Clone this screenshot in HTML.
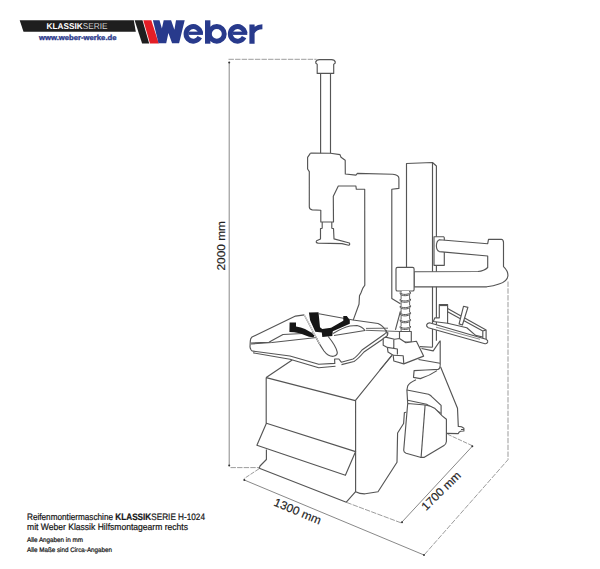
<!DOCTYPE html>
<html><head><meta charset="utf-8">
<style>
html,body{margin:0;padding:0;background:#fff;width:600px;height:569px;overflow:hidden}
svg{position:absolute;left:0;top:0;display:block}
text{font-family:"Liberation Sans",sans-serif;text-rendering:geometricPrecision}
</style></head><body>
<svg width="600" height="569" viewBox="0 0 600 569">
<!-- LOGO -->
<polygon points="19.7,20.2 133.8,20.2 135.8,31.8 23.5,31.8" fill="#1e1e1e"/>
<text x="46.5" y="29.2" font-size="8.5" font-weight="bold" fill="#fff" textLength="61" lengthAdjust="spacingAndGlyphs">KLASSIK<tspan font-weight="normal" fill="#d0d0d0">SERIE</tspan></text>
<text x="39" y="40.3" font-size="7.2" font-weight="bold" fill="#2c3a8c" stroke="#2c3a8c" stroke-width="0.35" textLength="77.5" lengthAdjust="spacingAndGlyphs">www.weber-werke.de</text>
<polygon points="134.6,20.2 142.5,20.2 149.2,43.4 142.1,43.4" fill="#1e1e1e"/>
<polygon points="143.3,20.2 151.3,20.2 158.8,43.4 150,43.4" fill="#e31e26"/>
<g fill="#283a8c"><polygon points="152.9,20.2 159.5,20.2 161.9,28.4 163.7,20.2 171.1,20.2 174.4,29.7 176,20.2 184.7,20.2 179.1,43.3 172.1,43.3 168.4,33.05 166.2,43.3 158.5,43.3"/><path d="M200.56,33.14 A7.3,7.3 0 1 0 199.80,37.21" stroke="#283a8c" stroke-width="4.9" fill="none"/><rect x="188.30" y="31.6" width="14.65" height="3.3" fill="#283a8c"/><rect x="205" y="20.3" width="5.4" height="23.4"/><ellipse cx="216.8" cy="33.9" rx="7.45" ry="7.35" stroke="#283a8c" stroke-width="4.9" fill="none"/><path d="M244.86,33.14 A7.3,7.3 0 1 0 244.10,37.21" stroke="#283a8c" stroke-width="4.9" fill="none"/><rect x="232.60" y="31.6" width="14.65" height="3.3" fill="#283a8c"/><path d="M249.4,43.7 V24.4 H254.6 V26.8 Q257.5,24.2 262.4,24.2 V29.3 Q257,29.3 254.6,33.2 V43.7 Z"/></g>

<!-- DIMENSIONS -->
<g stroke="#8a8a8a" stroke-width="0.85" fill="none">
<path d="M228.5,59.3 H316.5" stroke-dasharray="5.4,1.2"/>
<path d="M230.5,467.6 H259" stroke-dasharray="5.4,1.2"/>
<path d="M259,468.8 L243.8,478.8" stroke-dasharray="4.5,1.2"/>
<path d="M346.5,502.4 L401.5,523" stroke-dasharray="5.4,1.2"/>
<path d="M447.5,434.2 L472.5,445.8" stroke-dasharray="4.5,1.2"/>
<path d="M508,281.5 V459.7 L424.5,554.5" stroke-dasharray="5.4,1.4"/>
</g>
<g stroke="#6a6a6a" stroke-width="0.8" fill="none">
<path d="M229.2,62 V465.3"/>
<path d="M244.5,480.1 L424,555"/>
<path d="M402,522 L472.2,446.4"/>
</g>
<g fill="#333">
<circle cx="229.2" cy="62.6" r="1"/>
<circle cx="229.2" cy="465.4" r="1"/>
<circle cx="244.3" cy="480" r="1"/>
<circle cx="424" cy="555" r="1"/>
<circle cx="402" cy="522.2" r="1"/>
<circle cx="472.3" cy="446.3" r="1"/>
</g>
<text transform="translate(224.5,270.5) rotate(-90)" font-size="11.3" fill="#222" textLength="49.5" lengthAdjust="spacingAndGlyphs" stroke="#222" stroke-width="0.15">2000 mm</text>
<text transform="translate(273,505.3) rotate(22.7)" font-size="11.6" fill="#222" textLength="50" lengthAdjust="spacingAndGlyphs" stroke="#222" stroke-width="0.15">1300 mm</text>
<text transform="translate(426,511.3) rotate(-44.5)" font-size="11.6" fill="#222" textLength="50" lengthAdjust="spacingAndGlyphs" stroke="#222" stroke-width="0.15">1700 mm</text>

<!-- MACHINE -->
<g stroke="#555" stroke-width="1.15" fill="none" stroke-linejoin="round">
<!-- column -->
<path d="M406.5,267.4 V163.5 L432.5,162.5 V347.2 M432.5,162.5 L436.4,166 V340.8"/>
<!-- upper arm bracket and tube -->
<path fill="#fff" d="M434,236.7 H443.6 Q444.3,237 444.3,238 V265.3 H434 Z"/>
<path fill="#fff" d="M439.3,239.7 L487.7,243.7 L488.5,239.3 H501.2 Q503.5,239.6 503.5,242.5 V266.6 Q508.3,271 507.9,276 Q507.3,281.5 499,284 Q493.5,286.2 486.8,286.8 L414.1,286.8 V271.8 L478,271.5 Q484,271 487.7,267.5 V256 L439.3,251.6 Q436.4,250.3 436.4,245.7 Q436.5,241 439.3,239.7 Z"/>
<!-- slider -->
<rect fill="#fff" x="396" y="267.4" width="18.1" height="23.6" rx="1.6"/>
<!-- screw -->
<path fill="#fff" stroke-width="0.9" d="M401.1,291 V331.6 H409.6 V291"/>
<path stroke-width="1" fill="#fff" d="M400.2,292.7 C401.5,295.1 409,294.9 410.5,292.3 M400.2,294.0 C401.5,296.4 409,296.2 410.5,293.6 M400.2,292.7 V294.0 M410.5,292.3 V293.6 M400.2,299.3 C401.5,301.7 409,301.5 410.5,298.9 M400.2,300.6 C401.5,303.0 409,302.8 410.5,300.2 M400.2,299.3 V300.6 M410.5,298.9 V300.2 M400.2,306.0 C401.5,308.4 409,308.2 410.5,305.6 M400.2,307.3 C401.5,309.7 409,309.5 410.5,306.9 M400.2,306.0 V307.3 M410.5,305.6 V306.9 M400.2,312.9 C401.5,315.3 409,315.1 410.5,312.5 M400.2,314.2 C401.5,316.6 409,316.4 410.5,313.8 M400.2,312.9 V314.2 M410.5,312.5 V313.8 M400.2,319.8 C401.5,322.2 409,322.0 410.5,319.4 M400.2,321.1 C401.5,323.5 409,323.3 410.5,320.7 M400.2,319.8 V321.1 M410.5,319.4 V320.7 M400.2,326.5 C401.5,328.9 409,328.7 410.5,326.1 M400.2,327.8 C401.5,330.2 409,330.0 410.5,327.4 M400.2,326.5 V327.8 M410.5,326.1 V327.4"/>
<!-- head and arm -->
<path d="M317.2,73.4 L317.2,64.3 Q315.5,63.6 315.7,62 Q316.3,59.8 319.5,59.6 L331.5,59.6 Q334.7,59.8 335.3,62 Q335.5,63.6 333.7,64.3 L333.7,73.4 Z"/>
<path d="M320.6,73.3 V153.2 M330.5,73.3 V153.2"/>
<path d="M310.5,153.1 L330.5,153.2 L340,154.6 L341,157.3 L345.2,160.2 L345.3,174 L355.9,175.1 L357.4,173.4 L392.7,174.3 Q398.9,175 398.9,178.3 L398.9,188.4 L391.8,189.2 L391.8,298.5 L400.4,303.8"/>
<path d="M310.5,153.1 L307.6,157.4 L307.6,169 L309.3,171.6 L309.3,206.8 Q309.3,209.6 312.3,209.9 L320.8,210.3 L320.8,222 L333.5,222 L333.3,196.2 L338.3,186 L355.9,186 L356.3,189.2 L364.7,189.2 L364.8,285.3 L362.7,288.4 L361,292.7 L359.5,295.8 L359,304.3 L353.2,320.1"/>
<path d="M322.2,222 V228.5 M331.8,222 V228.5"/>
<path d="M322.2,228.5 H320.5 V239 L316.6,240.8 Q315.3,242.8 318.2,243.1 L342,243.6 L348.6,245.2 Q350.3,244.8 349.4,243 L334,238.9 L333.5,228.5 H331.8"/>
<path d="M400.4,311.4 L395.4,329.8"/>
<!-- turntable -->
<path d="M304.3,314.9 L295.5,316.1 L252,337 Q250.3,338.5 250.3,341 L250,347 Q250.5,350.5 253,351.3"/>
<path d="M304.3,314.9 L320,344.7"/>
<path d="M318.8,313.8 L353,320 L378,323.5 Q383,325.5 386,331 Q387.5,333 387.5,335.5"/>
<path d="M333,333.5 Q343,327.5 350,326 L357,325.5 Q362,326.5 365,330.5 L334,335.5"/>
<path d="M366,328.4 L388,328.2 M366,330.3 L399.5,331.5" stroke-width="0.9"/>
<path d="M253,351.1 L290,356 L318.7,364.3 L334.8,363.4 L334.6,359 H338.9 L341.3,362.2 L353,359 Q357,356.5 362,350 L384,334.5 Q387.6,332 386,330"/>
<path d="M253,352.8 L290,359.3 L318.7,367.7 L335.5,366.3 M341.5,364.6 L354,361.5 Q358,359 364,352 L386.6,336.5 Q388.5,334 387.5,332"/>
<path d="M251,343 L269,342.3 L272,340.5 L283,334.5 L313,333"/>
<path d="M251,344 L272,342.5 L316.7,337.5"/>
<path d="M316,337 Q318.5,343 324,351 Q328,356.5 333.3,356.3 Q337.5,355.5 337.3,352.3 Q336,346 328.2,336.5"/>
<!-- mount block -->
<path fill="#fff" d="M399.5,331.5 H411.3 V342 H399.5 Z"/>
<path fill="#fff" d="M383.2,338.6 V345.3 L387.4,347.4 L388,352.1 L391.6,354.2 L393.2,355.3 L393.8,361 L403.8,363.9 L423.6,356.1 L416.4,341.3 L405.9,342.7 L399.5,338.5 L394.6,339.2 L385.5,337.1 Z"/>
<path d="M393.8,339.5 V348.6 M387.4,347.4 L397.4,349 V354.5 M393.2,355.3 L403.2,355.8 L403.8,363.9"/>
<path d="M392,355.4 L379.8,370"/>
<path d="M418.5,359.5 L440,363.2"/>
<!-- column base bracket -->
<path d="M419.7,346.6 L432.5,347.2 M421.5,348.5 L433.2,350.9 L439.4,341.7 L440.2,341 V365.7"/>
<path d="M440.2,365.7 Q440,368.8 438,369.4 L425.8,370 L414.1,370.6 L413.5,377.4 L420.3,378.6 Q430,375.5 437,370.6"/>
<path d="M440.6,367 L457.5,408.2 L458.3,426.4 L461.5,426.8 L463.9,428.3 V431 L460.5,431.3 L459,432.2 L458.3,433.6 L446.9,433.4 M461,429.5 H463.9"/>
<path d="M416,379.8 Q409,383 407.7,386 L406.9,390 L407.7,403.5"/>
<path d="M406.9,390 L428.5,394.3 Q431,395.5 432,396.8 L441.1,405.4 V414.6"/>
<path d="M407.7,400.3 L426.6,404.3 L440.5,413"/>
<!-- bin -->
<path fill="#fff" d="M407.7,403.5 L425.1,405 Q431,406 434.6,408.2 L442.5,416.1 L446.4,419.3 V441.5 Q446,444.5 444,445.4 L424.3,457.3 L420.3,457.3 L406.1,453.3 Q403.7,452 403.7,450.2 Z"/>
<path d="M425.1,405 L421.1,457.3"/>
<!-- tool tray -->
<path fill="#fff" d="M434.9,317.8 H439.3 V304.6 H447.6 V323.3 L433.3,321.5 Z"/>
<path d="M439.3,305.2 H447.6" stroke-width="1.8"/>
<path d="M447.6,308.5 L486.1,329.9 V339.5 M447.6,311.8 L482.8,331 V338.5 M482.8,331 L486.1,329.9"/>
<path d="M447.6,323.3 L466.8,327.7 L475.6,335.4 L482.8,337"/>
<path fill="#fff" d="M463.5,306.3 L467.9,307.4 L462.4,325 L459.1,323.9 Z"/>
<path fill="#fff" d="M429.4,322.8 L486.1,339.3 Q488.2,340.3 487.7,342 Q487,344 485,343.7 L428.3,327.7 Q426.3,326.6 426.6,325 Q427.2,322.8 429.4,322.8 Z"/>
<path d="M436,327.2 L480,339.3" stroke-width="0.7"/>
<!-- base box -->
<path d="M266.2,377.6 L292.2,360 M266.2,377.6 L355.3,400.6 L391.7,355.5 M266.2,377.6 V423.3"/>
<path d="M355.6,400.6 V491.7 Q360,494 365.3,493.8 L378,491.7 L397,462.2 L397.6,433 L403.6,423.5 L404.4,412.5 L406.3,412.3"/>
<path d="M266.4,423.2 L256.9,445.3 L345.4,475.3 L355.6,451.6 Z"/>
<path d="M266.4,449.5 V459.5 L260,466 L259.3,468.2 L346.3,502.2 L355.6,491.7"/>
</g>
<!-- clamps (black) -->
<g fill="#161616">
<path d="M289.6,322.4 L296,322.4 L296,326.5 Q301,327.2 305,329 Q311,331.8 314.5,335.6 L313.5,337.2 Q309.5,337.4 305,335.2 Q300,332.6 294,332.2 L289.4,332 Z"/>
<path d="M308.9,312.6 L318.5,312.2 L320,327.2 L322.3,328.9 L331.1,327.8 L343.3,320.8 L343.3,316.1 L346.8,316.1 L349.8,320.2 L349.8,323.7 L332.8,331.3 L332.3,335.9 L322.3,337.1 L321.8,332.4 L315.3,331.8 L310.1,320.2 Z"/>
</g>
<g stroke="#3a3a3a" stroke-width="1" fill="none">
<path d="M304.3,314.9 L320,344.7" stroke="#fff" stroke-width="0.8"/>
</g>

<!-- TEXT -->
<g fill="#161616" stroke="#161616" stroke-width="0.22">
<text x="27" y="519.6" font-size="9.3" textLength="178" lengthAdjust="spacingAndGlyphs">Reifenmontiermaschine <tspan font-weight="bold">KLASSIK</tspan>SERIE H-1024</text>
<text x="27" y="529.6" font-size="9.3" textLength="161" lengthAdjust="spacingAndGlyphs">mit Weber Klassik Hilfsmontagearm rechts</text>
<text x="27" y="542" font-size="6.6" textLength="56" lengthAdjust="spacingAndGlyphs">Alle Angaben in mm</text>
<text x="27" y="551.5" font-size="6.6" textLength="85" lengthAdjust="spacingAndGlyphs">Alle Maße sind Circa-Angaben</text>
</g>
</svg>
</body></html>
